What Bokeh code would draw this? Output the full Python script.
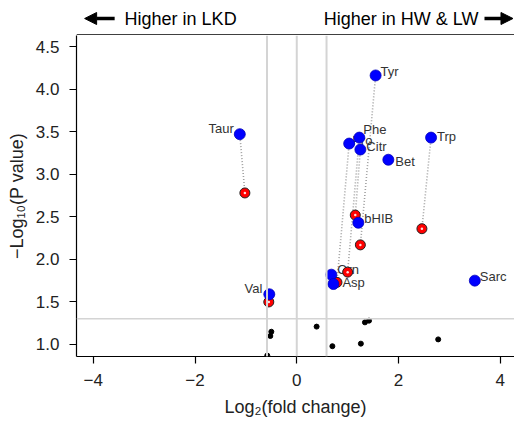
from bokeh.plotting import figure
from bokeh.layouts import column
from bokeh.models import (FixedTicker, NumeralTickFormatter, Arrow,
                          NormalHead, Span, ColumnDataSource, Range1d)
from bokeh.core.properties import value
from bokeh.embed import file_html
from bokeh.resources import INLINE

# ---------------- data ----------------
names   = ["Tyr", "Taur", "Phe", "Pro", "Citr", "Bet", "Trp", "bHIB", "Orn", "Asp", "Sarc", "Val"]
blue_x  = [1.55, -1.12, 1.23, 1.03, 1.25, 1.80, 2.64, 1.21, 0.68, 0.72, 3.50, -0.54]
blue_y  = [4.16, 3.47, 3.43, 3.36, 3.29, 3.17, 3.43, 2.43, 1.82, 1.71, 1.75, 1.59]
red_x   = [1.25, -1.02, 1.00, 0.79, 1.15, None, 2.46, None, None, None, None, -0.55]
red_y   = [2.17, 2.78, 1.85, 1.73, 2.52, None, 2.36, None, None, None, None, 1.50]
ns_x    = [0.39, -0.52, -0.50, -0.58, 0.70, 1.26, 1.34, 1.42, 2.78]
ns_y    = [1.21, 1.10, 1.15, 0.87, 0.98, 1.01, 1.26, 1.28, 1.06]
fc_cut  = [-0.585, 0.0, 0.585]
p_cut   = 1.301
x_ticks = [-4, -2, 0, 2, 4]
y_ticks = [1.0, 1.5, 2.0, 2.5, 3.0, 3.5, 4.0, 4.5]
header_left  = "Higher in LKD"
header_right = "Higher in HW & LW"

# label placement (pixel offsets from blue point) -- style only
lab_dx    = [5, -6, 4, 3, 6, 7, 6, 6, 6, 9, 5, -7]
lab_dy    = [-4, -6, -8, -3, -3, 2, -1, -4, -5, -2, -4, -6]
lab_align = ["left", "right", "left", "left", "left", "left", "left", "left", "left", "left", "left", "right"]

FONT = "Liberation Sans"
W = 514
HH = 35
xr = Range1d(-4.33, 4.28)

# ---------------- header ----------------
h = figure(width=W, height=HH, output_backend="svg", toolbar_location=None,
           x_range=xr, y_range=Range1d(0, 1),
           min_border_left=76, min_border_right=0, min_border_top=0, min_border_bottom=0)
h.axis.visible = False
h.grid.visible = False
h.outline_line_color = None
hy = 1 - 18 / HH
h.text(x=[-3.385], y=[hy], text=[header_left], text_baseline="middle", text_align="left",
       text_font=value(FONT), text_font_size="18px", text_color="black")
h.text(x=[3.57], y=[hy], text=[header_right], text_baseline="middle", text_align="right",
       text_font=value(FONT), text_font_size="18px", text_color="black")
h.add_layout(Arrow(end=NormalHead(size=12, fill_color="black", line_color="black"),
                   x_start=-3.58, y_start=hy, x_end=-4.17, y_end=hy, line_width=3.5, line_color="black"))
h.add_layout(Arrow(end=NormalHead(size=12, fill_color="black", line_color="black"),
                   x_start=3.69, y_start=hy, x_end=4.25, y_end=hy, line_width=3.5, line_color="black"))
# top border of the plotting panel
h.add_layout(Span(location=0.6 / HH, dimension="width", line_color="black", line_width=1.2))

# ---------------- main ----------------
p = figure(width=W, height=422 - HH, output_backend="svg", toolbar_location=None,
           x_range=xr, y_range=Range1d(0.859, 4.641 - 1 / 85.2),
           min_border_left=76, min_border_top=0, min_border_bottom=66, min_border_right=0)
p.grid.visible = False
p.outline_line_color = None

for v in fc_cut:
    p.add_layout(Span(location=v, dimension="height", line_color="#d4d4d4", line_width=2))
p.add_layout(Span(location=p_cut, dimension="width", line_color="#d4d4d4", line_width=1.5))

seg_x0, seg_y0, seg_x1, seg_y1 = [], [], [], []
for bx, by, rx, ry in zip(blue_x, blue_y, red_x, red_y):
    if rx is not None:
        seg_x0.append(bx); seg_y0.append(by); seg_x1.append(rx); seg_y1.append(ry)
p.segment(seg_x0, seg_y0, seg_x1, seg_y1, line_color="#a0a0a0", line_width=1.6, line_dash="1 2")

p.scatter(ns_x, ns_y, size=5, fill_color="black", line_color="black")

for i, n in enumerate(names):
    p.text(x=[blue_x[i]], y=[blue_y[i]], text=[n], x_offset=lab_dx[i], y_offset=lab_dy[i],
           text_align=lab_align[i], text_baseline="middle", text_font=value(FONT),
           text_font_size="13px", text_color="#333333")

rsrc = ColumnDataSource(dict(x=[v for v in red_x if v is not None],
                             y=[v for v in red_y if v is not None]))
p.scatter("x", "y", source=rsrc, size=10, fill_color="#ff0000", line_color="#222222", line_width=1)
p.scatter("x", "y", source=rsrc, size=2.5, fill_color="#ffdddd", line_color=None)
p.scatter(blue_x, blue_y, size=11, fill_color="#0000ff", line_color="#0000bb", line_width=0.8)

for ax in [p.xaxis[0], p.yaxis[0]]:
    ax.axis_line_color = "black"
    ax.axis_line_width = 1.2
    ax.major_tick_line_color = "black"
    ax.major_tick_line_width = 1.2
    ax.major_tick_out = 7
    ax.major_tick_in = 0
    ax.minor_tick_line_color = None
    ax.major_label_text_font = FONT
    ax.major_label_text_font_size = "17px"
    ax.major_label_text_color = "#222222"
    ax.axis_label_text_font = FONT
    ax.axis_label_text_font_size = "18px"
    ax.axis_label_text_font_style = "normal"
    ax.axis_label_text_color = "#222222"

p.xaxis.ticker = FixedTicker(ticks=x_ticks)
p.xaxis.major_label_overrides = {t: str(t).replace("-", "\u2212") for t in x_ticks}
p.xaxis.axis_label = "Log\u2082(fold change)"
p.xaxis.major_label_standoff = 10
p.xaxis.axis_label_standoff = 8

p.yaxis.ticker = FixedTicker(ticks=y_ticks)
p.yaxis.formatter = NumeralTickFormatter(format="0.0")
p.yaxis.axis_label = "\u2212Log\u2081\u2080(P value)"
p.yaxis.major_label_standoff = 10
p.yaxis.axis_label_standoff = 6

layout = column(h, p, spacing=0)
open("out.html", "w").write(file_html(layout, INLINE))
